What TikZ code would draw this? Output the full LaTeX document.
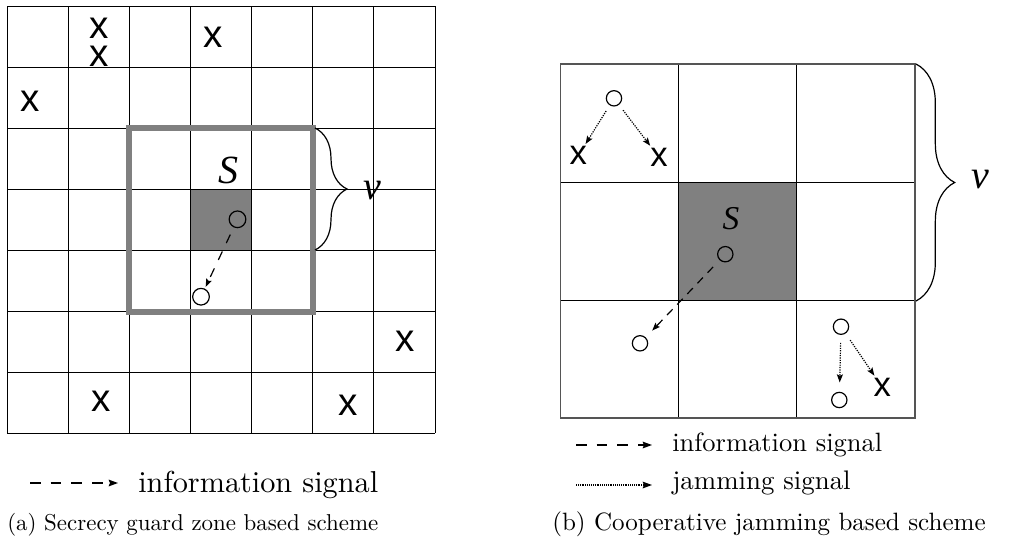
\documentclass[tikz,border=0pt]{standalone}
\usepackage{fontspec}
\usepackage{graphicx}
\newfontfamily\marksans{Liberation Sans}
\newfontfamily\varserif{Liberation Serif}
\usetikzlibrary{arrows.meta,decorations.pathreplacing}
\definecolor{zonegray}{HTML}{808080}
\definecolor{cellgray}{HTML}{808080}
\definecolor{framegray}{HTML}{555555}

\begin{document}
\begin{tikzpicture}[x=0.75pt,y=-0.75pt,
  gridline/.style={line width=0.7pt, black},
  zonebox/.style={line width=4.5pt, zonegray},
  node/.style={circle, draw, line width=0.9pt, inner sep=0pt, minimum size=12.5pt},
  nodeb/.style={circle, draw, line width=0.9pt, inner sep=0pt, minimum size=11.5pt},
  eave/.style={inner sep=0pt, font=\marksans\fontsize{29}{29}\selectfont},
  eaveb/.style={inner sep=0pt, font=\marksans\fontsize{26}{26}\selectfont},
  varlabel/.style={inner sep=0pt, font=\varserif\itshape\fontsize{30}{30}\selectfont},
  varlabelb/.style={inner sep=0pt, font=\varserif\itshape\fontsize{25}{25}\selectfont},
  info/.style={line width=0.9pt, dash pattern=on 7pt off 7pt, -{Stealth[length=6pt,width=4.5pt,inset=1pt]}},
  infob/.style={line width=0.9pt, dash pattern=on 6pt off 5pt, -{Stealth[length=6pt,width=4.5pt,inset=1pt]}},
  jam/.style={line width=0.9pt, dash pattern=on 0.9pt off 0.9pt, -{Stealth[length=6pt,width=4.5pt,inset=1pt]}},
  legdash/.style={line width=1pt, dash pattern=on 8pt off 7.5pt, -{Stealth[length=7pt,width=5pt,inset=1pt]}},
  legdot/.style={line width=0.9pt, dash pattern=on 0.7pt off 0.7pt, -{Stealth[length=7pt,width=5pt,inset=1pt]}},
  bracket/.style={line width=0.9pt, decorate},
  caption/.style={inner sep=0pt, anchor=base west}
]
\useasboundingbox (0,0) rectangle (1022,540);

% ---------- (a) secrecy guard zone ----------
\fill[cellgray] (190.43,189.3) rectangle (251.57,250.4);
\foreach \i in {0,...,7} {
  \draw[gridline] ({7+61.143*\i},6) -- ({7+61.143*\i},433);
  \draw[gridline] (7,{6+61*\i}) -- (435,{6+61*\i});
}
\draw[zonebox] (129.3,128.2) rectangle (312.7,311.5);

\node[varlabel] (Sa) at (228.5,170) {S};
\node[node] (ta) at (237.5,219.3) {};
\node[node] (ra) at (201,296.7) {};
\draw[info, shorten <=6pt, shorten >=1.5pt] (ta) -- (ra);

\foreach \n/\p in {xa1/{(99,28.3)}, xa2/{(99,56)}, xa3/{(213.3,37.3)},
                   xa4/{(30,101.7)}, xa5/{(405,341.7)}, xa6/{(101,401.7)},
                   xa7/{(347.7,405)}}
  \node[eave] (\n) at \p {x};

\coordinate (bat) at (315,128);
\coordinate (bab) at (315,250);
\draw[bracket, decoration={brace, amplitude=24pt}] (bat) -- (bab);
\node[varlabel] (va) at (372,191) {v};

% legend (a)
\coordinate (la0) at (30,483);
\coordinate (la1) at (118,483);
\draw[legdash] (la0) -- (la1);
\node[caption] (lta) at (138,492) {\resizebox{180pt}{!}{information signal}};
\node[caption] (capa) at (7,530) {\resizebox{278.3pt}{!}{(a) Secrecy guard zone based scheme}};

% ---------- (b) cooperative jamming ----------
\fill[white] (560.7,64) rectangle (915,418);
\fill[cellgray] (678.8,182) rectangle (796.9,300);
\foreach \i in {1,2} {
  \draw[gridline] ({560.7+118.1*\i},64) -- ({560.7+118.1*\i},418);
  \draw[gridline] (560.7,{64+118*\i}) -- (915,{64+118*\i});
}
\draw[line width=0.9pt, framegray] (560.7,64) rectangle (915,418);

\node[varlabelb] (Sb) at (731,219) {S};
\node[nodeb] (tb) at (725.3,254.2) {};
\node[nodeb] (rb) at (640,343.3) {};
\draw[infob, shorten <=7pt, shorten >=7pt] (tb) -- (rb);

% jammers with their eavesdroppers
\node[nodeb] (j1) at (614,98.3) {};
\node[eaveb] (xb1) at (578.3,155.7) {x};
\node[eaveb] (xb2) at (659,157.3) {x};
\draw[jam, shorten <=5pt, shorten >=2pt] (j1) -- (xb1);
\draw[jam, shorten <=5pt, shorten >=2pt] (j1) -- (xb2);

\node[nodeb] (j2) at (841,326.7) {};
\node[nodeb] (r2) at (839.3,400) {};
\node[eaveb] (xb3) at (882.3,387.3) {x};
\draw[jam, shorten <=6pt, shorten >=7pt] (j2) -- (r2);
\draw[jam, shorten <=6pt, shorten >=2pt] (j2) -- (xb3);

\coordinate (bbt) at (916,64);
\coordinate (bbb) at (916,301);
\draw[bracket, decoration={brace, amplitude=29pt}] (bbt) -- (bbb);
\node[varlabel] (vb) at (980,180) {v};

% legend (b)
\coordinate (lb0) at (576,445);
\coordinate (lb1) at (652,445);
\coordinate (lc0) at (576,485);
\coordinate (lc1) at (652,485);
\draw[legdash] (lb0) -- (lb1);
\draw[legdot] (lc0) -- (lc1);
\node[caption] (ltb) at (672,451) {\resizebox{157.5pt}{!}{information signal}};
\node[caption] (ltc) at (672,489.5) {\resizebox{133.8pt}{!}{jamming signal}};
\node[caption] (capb) at (552,530) {\resizebox{325pt}{!}{(b) Cooperative jamming based scheme}};
\end{tikzpicture}
\end{document}
